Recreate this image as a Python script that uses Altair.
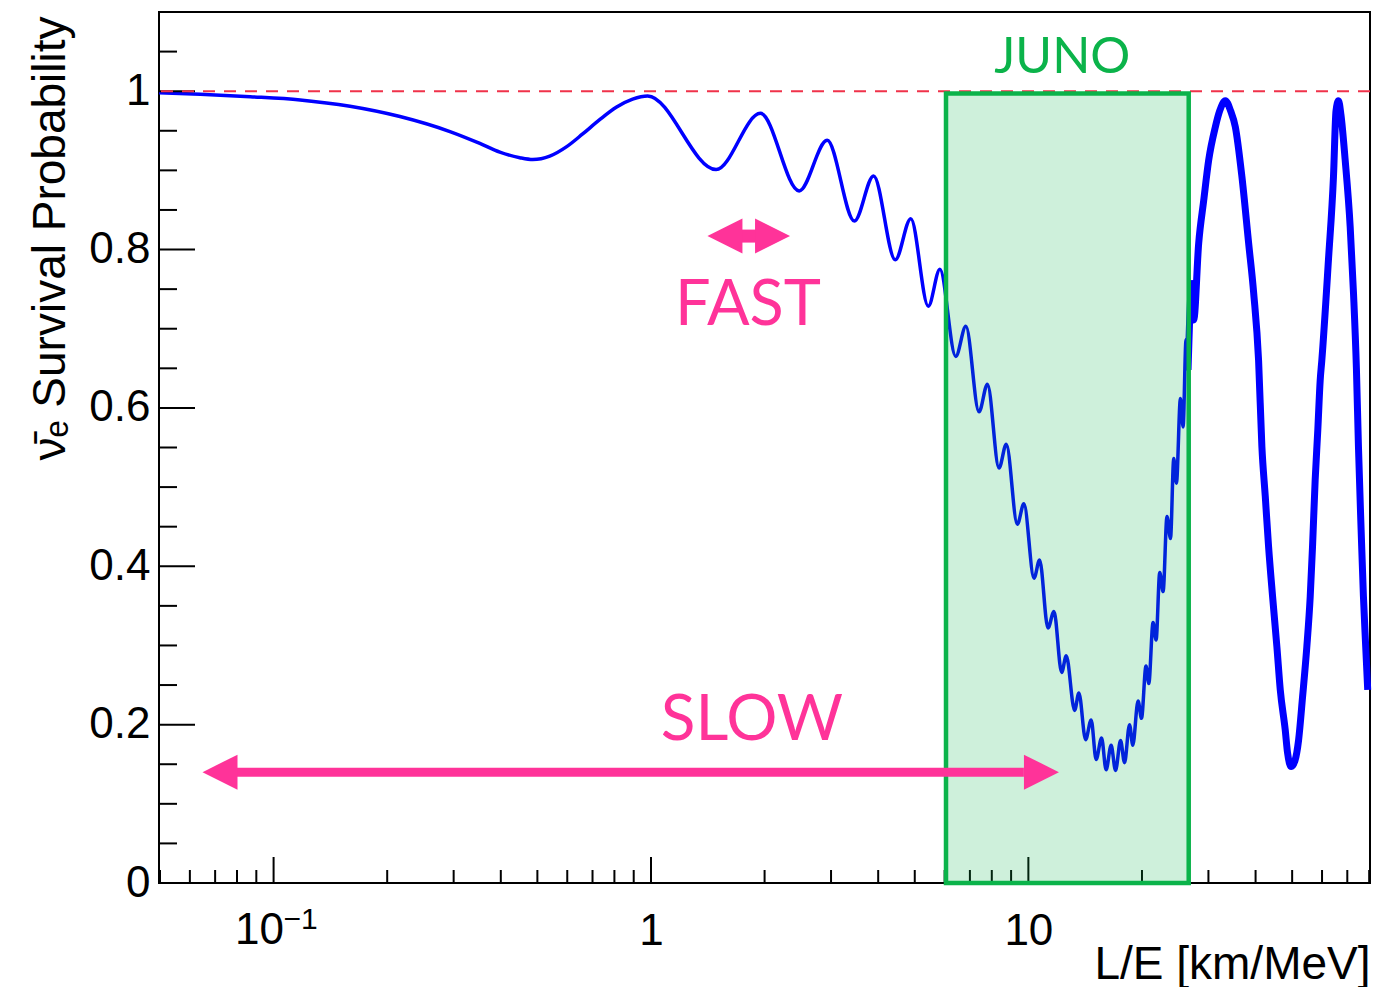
import altair as alt
import pandas as pd

W, H = 1211, 871

# --- survival probability curve (thin part) ---
le_thin = [0.0497, 0.0639, 0.0867, 0.1176, 0.1594, 0.2162, 0.2933, 0.352, 0.3977, 0.4492, 0.4863,
           0.5393, 0.598, 0.6592, 0.7311, 0.811, 0.8939, 0.98,
           1.488, 1.95, 2.47, 2.93, 3.46, 3.89, 4.44, 4.88, 5.43, 5.83, 6.42, 6.83,
           7.40, 7.79, 8.36, 8.74, 9.35, 9.73, 10.35, 10.71, 11.27, 11.69, 12.25, 12.6, 13.26,
           13.61, 14.18, 14.67, 15.12, 15.63, 16.07, 16.57, 17.02, 17.55, 17.98, 18.54, 18.91,
           19.53, 19.94, 20.5, 20.85, 21.4, 21.8, 22.29, 22.75, 23.3, 23.8, 24.28, 24.68, 25.29,
           25.7, 26.17, 26.49, 27.14, 27.42]
p_thin = [0.998, 0.996, 0.993, 0.989, 0.981, 0.968, 0.949, 0.934, 0.923, 0.916, 0.9137,
          0.918, 0.930, 0.946, 0.964, 0.980, 0.990, 0.994,
          0.901, 0.972, 0.874, 0.938, 0.836, 0.893, 0.787, 0.839, 0.7285, 0.775,
          0.665, 0.703, 0.595, 0.630, 0.524, 0.554, 0.453, 0.479, 0.385, 0.408, 0.322, 0.343,
          0.266, 0.287, 0.218, 0.240, 0.181, 0.206, 0.156, 0.183, 0.143, 0.174, 0.142, 0.180,
          0.152, 0.200, 0.174, 0.230, 0.208, 0.274, 0.252, 0.329, 0.307, 0.392, 0.368, 0.463,
          0.435, 0.536, 0.505, 0.612, 0.576, 0.686, 0.648, 0.757, 0.711]

# --- blurred (fast-oscillation) part beyond the JUNO window ---
le_band = [26.49, 27.14, 27.42, 28.27, 29.15, 30.05, 31.3, 32.13, 33.27, 34.36, 35.35, 36.8,
           38.34, 39.54, 40.74, 41.57, 42.44, 43.3, 44.37, 45.56, 46.5, 47.94, 48.6, 49.73,
           50.9, 51.99, 53.28, 54.68, 55.83, 56.62, 57.54, 58.47, 59.33, 59.92, 62.4, 64.34,
           65.34, 66.33, 67.35, 69.1, 71.24, 72.7, 74.0, 74.93, 76.16, 77.24, 78.33, 79.29]
p_band = [0.648, 0.757, 0.711, 0.808, 0.862, 0.913, 0.955, 0.975, 0.988, 0.975, 0.955, 0.892,
          0.808, 0.745, 0.660, 0.551, 0.488, 0.425, 0.362, 0.298, 0.244, 0.193, 0.165, 0.147,
          0.155, 0.180, 0.235, 0.298, 0.362, 0.425, 0.509, 0.572, 0.635, 0.660, 0.787, 0.892,
          0.975, 0.988, 0.970, 0.913, 0.829, 0.745, 0.650, 0.551, 0.446, 0.362, 0.298, 0.244]

# --- axis ticks ---
x_major = [0.1, 1, 10]
x_minor = [0.05, 0.06, 0.07, 0.08, 0.09, 0.2, 0.3, 0.4, 0.5, 0.6, 0.7, 0.8, 0.9,
           2, 3, 4, 5, 6, 7, 8, 9, 20, 30, 40, 50, 60, 70, 80]
y_major = [0, 0.2, 0.4, 0.6, 0.8, 1.0]
y_minor = [0.05, 0.1, 0.15, 0.25, 0.3, 0.35, 0.45, 0.5, 0.55, 0.65, 0.7, 0.75, 0.85, 0.9,
           0.95, 1.05]
exp_label_value = 0.1
exp_label_base = "10"
exp_label_power = "−1"

# --- annotations ---
juno_box = {"x": 6.05, "x2": 26.6, "y": 0.0, "y2": 0.997}
slow_tips = [0.0648, 12.05]
slow_shaft = [0.0799, 9.73]
slow_y = 0.14
fast_tips = [1.411, 2.336]
fast_shaft = [1.74, 1.90]
fast_y = 0.817
labels = ["FAST", "SLOW", "JUNO"]
label_x = [1.807, 1.852, 12.3]
label_y = [0.7045, 0.1806, 1.0227]
label_color = ["#ff3399", "#ff3399", "#0bb34a"]
label_size = [63, 64, 50]

PINK = "#ff3399"
GREEN = "#0bb34a"
AXF = "Liberation Sans"

xs = alt.Scale(type="log", domain=[0.0497, 80.4], nice=False)
ys = alt.Scale(domain=[0, 1.1], nice=False, zero=False)

x_axis = alt.Axis(values=x_major, labelExpr="datum.value < 0.5 ? '' : (datum.value < 5 ? '1' : '10')",
                  ticks=False, tickSize=0, domain=False, grid=False, labelFont=AXF, labelFontSize=44,
                  labelColor="black", labelPadding=26, labelBaseline="top", labelFlush=False,
                  labelOverlap=False,
                  title="L/E [km/MeV]", titleFont=AXF, titleFontSize=46, titleFontWeight="normal",
                  titleColor="black", titleAlign="right", titleAnchor="end", titleX=W, titleY=95,
                  titleBaseline="alphabetic")
y_axis = alt.Axis(values=y_major, format=".1~f", ticks=False, tickSize=0, domain=False, grid=False,
                  labelFont=AXF, labelFontSize=44, labelColor="black", labelPadding=9,
                  labelFlush=False, labelOverlap=False,
                  title="ν̄ₑ Survival Probability", titleFont=AXF, titleFontSize=46,
                  titleFontWeight="normal", titleColor="black", titleAngle=270, titleAlign="right",
                  titleBaseline="alphabetic", titleX=-95, titleY=4)


def X(f):
    return alt.X(f, scale=xs, axis=x_axis)


def Y(f):
    return alt.Y(f, scale=ys, axis=y_axis)


thin = pd.DataFrame({"le": le_thin, "p": p_thin})
band = pd.DataFrame({"le": le_band, "p": p_band})

y_min_t = alt.Chart(pd.DataFrame({"v": y_minor})).mark_rule(color="black", strokeWidth=2).encode(
    y=Y("v:Q"), x=alt.value(0), x2=alt.value(18))
y_maj_t = alt.Chart(pd.DataFrame({"v": y_major})).mark_rule(color="black", strokeWidth=2).encode(
    y=Y("v:Q"), x=alt.value(0), x2=alt.value(36))
x_min_t = alt.Chart(pd.DataFrame({"v": x_minor})).mark_rule(color="black", strokeWidth=2).encode(
    x=X("v:Q"), y=alt.value(H), y2=alt.value(H - 13))
x_maj_t = alt.Chart(pd.DataFrame({"v": x_major})).mark_rule(color="black", strokeWidth=2).encode(
    x=X("v:Q"), y=alt.value(H), y2=alt.value(H - 26))

exp_df = pd.DataFrame({"v": [exp_label_value], "b": [exp_label_base], "e": [exp_label_power]})
exp_base = alt.Chart(exp_df).mark_text(font=AXF, fontSize=44, align="center", baseline="top",
                                       dx=-14, color="black").encode(
    x=X("v:Q"), y=alt.value(H + 26), text="b:N")
exp_pow = alt.Chart(exp_df).mark_text(font=AXF, fontSize=30, align="left", baseline="top",
                                      dx=10, color="black").encode(
    x=X("v:Q"), y=alt.value(H + 22), text="e:N")

dashed = alt.Chart(pd.DataFrame({"v": [1.0]})).mark_rule(color="#f0324a", strokeWidth=2,
                                                          strokeDash=[12, 9]).encode(y=Y("v:Q"))

curve = alt.Chart(thin).mark_line(color="#0000ff", strokeWidth=3.5, interpolate="monotone").encode(
    x=X("le:Q"), y=Y("p:Q"))
curve_band = alt.Chart(band).mark_line(color="#0000ff", strokeWidth=7, interpolate="monotone").encode(
    x=X("le:Q"), y=Y("p:Q"))

box = alt.Chart(pd.DataFrame([juno_box])).mark_rect(fill=GREEN, fillOpacity=0.2, stroke=GREEN,
                                                     strokeWidth=4.5).encode(
    x=X("x:Q"), x2="x2:Q", y=Y("y:Q"), y2="y2:Q")

slow_sh = alt.Chart(pd.DataFrame({"a": [slow_shaft[0]], "b": [slow_shaft[1]], "y": [slow_y]})).mark_rule(
    color=PINK, strokeWidth=9, strokeCap="butt").encode(x=X("a:Q"), x2="b:Q", y=Y("y:Q"))
fast_sh = alt.Chart(pd.DataFrame({"a": [fast_shaft[0]], "b": [fast_shaft[1]], "y": [fast_y]})).mark_rule(
    color=PINK, strokeWidth=13, strokeCap="butt").encode(x=X("a:Q"), x2="b:Q", y=Y("y:Q"))

left_heads = pd.DataFrame({"x": [slow_tips[0], fast_tips[0]], "y": [slow_y, fast_y]})
right_heads = pd.DataFrame({"x": [slow_tips[1], fast_tips[1]], "y": [slow_y, fast_y]})
lh = alt.Chart(left_heads).mark_point(shape="M0,0L2,-1L2,1Z", filled=True, fill=PINK, opacity=1,
                                      size=1225, strokeWidth=0).encode(x=X("x:Q"), y=Y("y:Q"))
rh = alt.Chart(right_heads).mark_point(shape="M0,0L-2,-1L-2,1Z", filled=True, fill=PINK, opacity=1,
                                       size=1225, strokeWidth=0).encode(x=X("x:Q"), y=Y("y:Q"))

txt = pd.DataFrame({"t": labels, "x": label_x, "y": label_y, "c": label_color, "s": label_size})
texts = alt.Chart(txt).mark_text(font="Lato", align="center", baseline="alphabetic").encode(
    x=X("x:Q"), y=Y("y:Q"),
    text="t:N", color=alt.Color("c:N", scale=None), size=alt.Size("s:Q", scale=None))

chart = alt.layer(curve, curve_band, y_min_t, y_maj_t, x_min_t, x_maj_t, dashed, box,
                  slow_sh, fast_sh, lh, rh, texts, exp_base, exp_pow).properties(
    width=W, height=H,
    padding={"left": 159, "top": 12, "right": 30, "bottom": 104},
    autosize=alt.AutoSizeParams(type="none"),
    background="white",
).configure_view(stroke="black", strokeWidth=2)

chart.save("out.html", embed_options={"renderer": "svg", "actions": False})
